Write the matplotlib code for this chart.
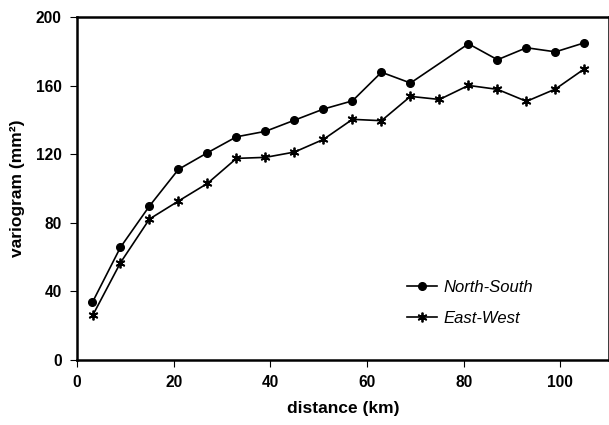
import matplotlib.pyplot as plt

plt.rcParams["font.family"] = ["Liberation Sans", "DejaVu Sans"]

# distances (km) and variogram values (mm^2)
ns_dist = [3.2, 9, 15, 21, 27, 33, 39, 45, 51, 57, 63, 69, 81, 87, 93, 99, 105]
ns_vario = [33.7, 65.8, 89.9, 111.3, 121, 130.3, 133.5, 140, 146.5, 151.3,
            168, 161.7, 184.6, 175.3, 182.3, 179.9, 185.2]
ew_dist = [3.3, 9, 15, 21, 27, 33, 39, 45, 51, 57, 63, 69, 75, 81, 87, 93, 99, 105]
ew_vario = [26.3, 56.8, 82.3, 92.8, 103.1, 117.7, 118.3, 121.4, 128.8, 140.5,
            139.7, 153.9, 152.1, 160.3, 158, 151, 158.2, 170]
x_ticks = [0, 20, 40, 60, 80, 100]
y_ticks = [0, 40, 80, 120, 160, 200]

fig = plt.figure(figsize=(6.09, 4.25), dpi=100)
ax = fig.add_axes([0.1264, 0.153, 0.873, 0.806])

ax.plot(ns_dist, ns_vario, color="black", lw=1.2, marker="o", ms=5.5,
        label="North-South")
ax.plot(ew_dist, ew_vario, color="black", lw=1.2, marker=(6, 2, 0), ms=7,
        mew=1.3, label="East-West")

ax.set_xlim(0, 110)
ax.set_ylim(0, 200)
ax.set_xticks(x_ticks)
ax.set_yticks(y_ticks)
for side in ax.spines.values():
    side.set_linewidth(1.8)
ax.tick_params(length=5, width=0.8, labelsize=11.2, pad=6)
for lab in ax.get_xticklabels() + ax.get_yticklabels():
    lab.set_fontweight("bold")

ax.set_xlabel("distance (km)", fontsize=12.5, fontweight="bold", labelpad=8)
ax.set_ylabel("variogram (mm²)", fontsize=12.5, fontweight="bold", labelpad=8)

leg = ax.legend(loc="lower right", bbox_to_anchor=(0.887, 0.055), frameon=False,
                prop={"style": "italic", "size": 12}, handlelength=1.8,
                handletextpad=0.4, labelspacing=0.95)

fig.savefig("out.png", dpi=100)
